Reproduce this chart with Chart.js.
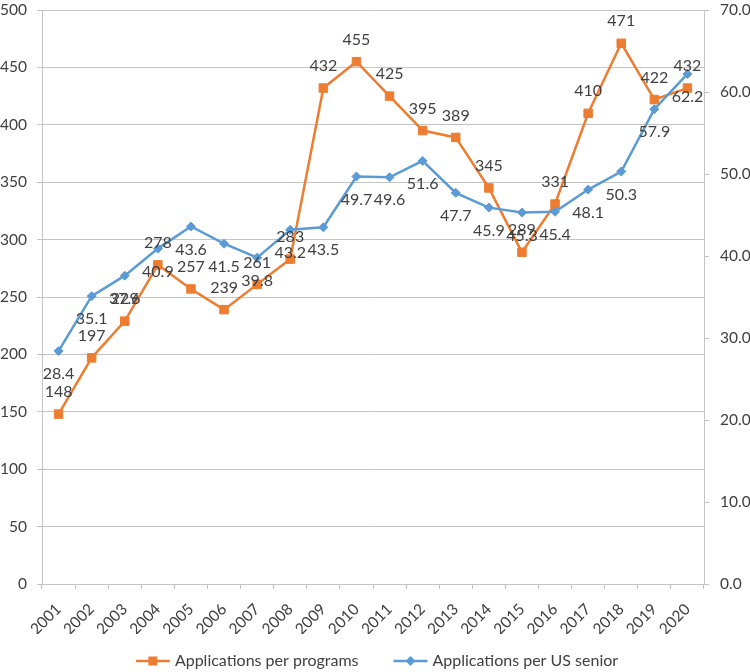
<!DOCTYPE html>
<html>
<head>
<meta charset="utf-8">
<script src="https://cdn.jsdelivr.net/npm/chart.js@4.4.1/dist/chart.umd.min.js"></script>
<style>
html,body{margin:0;padding:0;background:#fff;}
#wrap{width:750px;height:672px;position:relative;}
</style>
</head>
<body>
<div id="wrap"><canvas id="c"></canvas></div>
<script>
const years = ['2001','2002','2003','2004','2005','2006','2007','2008','2009','2010','2011','2012','2013','2014','2015','2016','2017','2018','2019','2020'];
const applicationsPerPrograms = [148,197,229,278,257,239,261,283,432,455,425,395,389,345,289,331,410,471,422,432];
const applicationsPerUSSenior = [28.4,35.1,37.6,40.9,43.6,41.5,39.8,43.2,43.5,49.7,49.6,51.6,47.7,45.9,45.3,45.4,48.1,50.3,57.9,62.2];
const leftTickValues = [0,50,100,150,200,250,300,350,400,450,500];
const rightTickValues = [0,10,20,30,40,50,60,70];
const seriesNames = ['Applications per programs','Applications per US senior'];

const ORANGE = '#ED7D31';
const BLUE = '#5B9BD5';
const GRID = '#c4c4c4';
const TEXT = '#404040';
const FONT = 'Lato, "Liberation Sans", sans-serif';
const FS = 16;
const TFS = 15.5;

const dataLabelPlugin = {
  id: 'dataLabels',
  afterDatasetsDraw(chart) {
    const ctx = chart.ctx;
    ctx.save();
    ctx.font = FS + 'px ' + FONT;
    ctx.fillStyle = TEXT;
    ctx.textAlign = 'center';
    ctx.textBaseline = 'middle';
    chart.data.datasets.forEach((ds, i) => {
      const meta = chart.getDatasetMeta(i);
      const dy = ds.labelOffset;
      meta.data.forEach((pt, j) => {
        const v = ds.data[j];
        const txt = ds.labelDecimals ? v.toFixed(ds.labelDecimals) : String(v);
        ctx.fillText(txt, pt.x, pt.y + dy);
      });
    });
    ctx.restore();
  }
};

const legendPlugin = {
  id: 'customLegend',
  afterDraw(chart) {
    const ctx = chart.ctx;
    ctx.save();
    ctx.font = FS + 'px ' + FONT;
    const iconW = 34, iconGap = 5, itemGap = 35;
    const items = chart.data.datasets.map(ds => ({ds, w: ctx.measureText(ds.label).width}));
    let total = 0;
    items.forEach((it, k) => { total += iconW + iconGap + it.w + (k ? itemGap : 0); });
    let x = chart.width / 2 - total / 2 + 2;
    const y = 661;
    items.forEach((it, k) => {
      if (k) x += itemGap;
      const ds = it.ds;
      ctx.strokeStyle = ds.borderColor;
      ctx.lineWidth = 2.5;
      ctx.beginPath();
      ctx.moveTo(x, y);
      ctx.lineTo(x + iconW, y);
      ctx.stroke();
      const cx = x + iconW / 2;
      ctx.fillStyle = ds.borderColor;
      ctx.beginPath();
      if (ds.pointStyle === 'rect') {
        ctx.rect(cx - 4.5, y - 4.5, 9, 9);
      } else {
        ctx.moveTo(cx, y - 5); ctx.lineTo(cx + 5, y); ctx.lineTo(cx, y + 5); ctx.lineTo(cx - 5, y); ctx.closePath();
      }
      ctx.fill();
      x += iconW + iconGap;
      ctx.fillStyle = TEXT;
      ctx.textAlign = 'left';
      ctx.textBaseline = 'middle';
      ctx.fillText(ds.label, x, y);
      x += it.w;
    });
    ctx.restore();
  }
};

function fixVertical(width) {
  return function (s) {
    s.width = width;
    s.paddingTop = 0;
    s.paddingBottom = 0;
  };
}

function build() {
  new Chart(document.getElementById('c'), {
    type: 'line',
    data: {
      labels: years,
      datasets: [
        {
          label: seriesNames[0],
          data: applicationsPerPrograms,
          yAxisID: 'y',
          borderColor: ORANGE,
          backgroundColor: ORANGE,
          pointBackgroundColor: ORANGE,
          pointBorderColor: ORANGE,
          borderWidth: 2.5,
          pointStyle: 'rect',
          pointRadius: 6,
          pointBorderWidth: 1,
          tension: 0,
          order: 1,
          labelOffset: -22,
          labelDecimals: 0
        },
        {
          label: seriesNames[1],
          data: applicationsPerUSSenior,
          yAxisID: 'y1',
          borderColor: BLUE,
          backgroundColor: BLUE,
          pointBackgroundColor: BLUE,
          pointBorderColor: BLUE,
          borderWidth: 2.5,
          pointStyle: 'rectRot',
          pointRadius: 4.5,
          pointBorderWidth: 1,
          tension: 0,
          order: 0,
          labelOffset: 23,
          labelDecimals: 1
        }
      ]
    },
    options: {
      responsive: true,
      maintainAspectRatio: false,
      animation: false,
      devicePixelRatio: 1,
      layout: { padding: { top: 10, left: 0, right: 0, bottom: 38 } },
      plugins: {
        legend: { display: false },
        tooltip: { enabled: false }
      },
      scales: {
        x: {
          type: 'category',
          offset: true,
          grid: { display: true, drawOnChartArea: false, drawTicks: true, tickLength: 5, color: GRID, offset: true },
          border: { color: GRID, width: 1 },
          ticks: { font: { family: FONT, size: TFS }, color: TEXT, minRotation: 45, maxRotation: 45, autoSkip: false, padding: 11 },
          afterFit(s) { s.height = 50; s.paddingLeft = 0; s.paddingRight = 0; }
        },
        y: {
          position: 'left',
          min: 0, max: 500,
          afterBuildTicks(s) { s.ticks = leftTickValues.map(v => ({ value: v })); },
          grid: { color: GRID, tickLength: 5 },
          border: { color: GRID, width: 1 },
          ticks: { font: { family: FONT, size: TFS }, color: TEXT, padding: 10 },
          afterFit: fixVertical(42)
        },
        y1: {
          position: 'right',
          min: 0, max: 70,
          afterBuildTicks(s) { s.ticks = rightTickValues.map(v => ({ value: v })); },
          grid: { drawOnChartArea: false, color: GRID, tickLength: 5 },
          border: { color: GRID, width: 1 },
          ticks: { font: { family: FONT, size: TFS }, color: TEXT, padding: 11, callback: v => Number(v).toFixed(1) },
          afterFit: fixVertical(46)
        }
      }
    },
    plugins: [dataLabelPlugin, legendPlugin]
  });
}

if (document.fonts && document.fonts.load) {
  document.fonts.load('16px Lato').then(build, build);
} else {
  build();
}
</script>
</body>
</html>
